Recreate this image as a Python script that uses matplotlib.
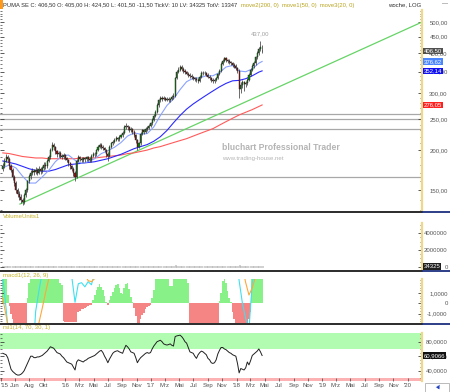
import numpy as np
import pandas as pd
import matplotlib
matplotlib.use("Agg")
import matplotlib.pyplot as plt
import matplotlib.dates as mdates
from matplotlib.ticker import FixedLocator, FuncFormatter, NullFormatter
from matplotlib.lines import Line2D
from matplotlib.patches import Rectangle

plt.rcParams['font.family'] = ['Liberation Sans', 'DejaVu Sans']

# weekly bars PUMA SE, first bar week of 10.04.2015
first_week = '2015-04-10'
first_open = 175
last_open = 405.0
closes = [178, 185, 190, 188, 178, 174, 165, 158, 150, 146,
          143, 140, 138, 145, 150, 160, 166, 170, 172, 171,
          174, 170, 175, 172, 176, 180, 178, 185, 190, 200,
          208, 204, 198, 194, 196, 192, 190, 193, 189, 186,
          182, 178, 175, 170, 165, 185, 190, 188, 186, 189,
          187, 190, 188, 186, 192, 195, 194, 200, 205, 208,
          205, 203, 200, 195, 192, 205, 210, 212, 215, 218,
          216, 220, 222, 226, 236, 238, 235, 230, 232, 228,
          222, 215, 205, 210, 225, 230, 228, 232, 234, 238,
          242, 248, 256, 262, 275, 285, 290, 288, 290, 287,
          289, 285, 288, 292, 295, 335, 350, 355, 362, 358,
          352, 350, 345, 342, 340, 336, 334, 332, 330, 328,
          338, 348, 346, 347, 343, 338, 335, 330, 327, 330,
          335, 345, 352, 370, 378, 385, 380, 378, 374, 372,
          368, 365, 360, 352, 310, 318, 325, 320, 322, 330,
          342, 355, 365, 372, 388, 400, 412, 418, 406.5]
highs = [182, 189, 195, 193, 190, 181, 176, 167, 160, 153,
         149, 146, 142, 147, 153, 162, 169, 173, 176, 175,
         177, 176, 178, 177, 179, 183, 183, 188, 193, 203,
         212, 210, 206, 200, 199, 198, 195, 196, 195, 191,
         188, 184, 180, 177, 172, 187, 193, 192, 190, 191,
         191, 192, 192, 190, 194, 197, 197, 202, 208, 211,
         210, 207, 205, 202, 197, 207, 212, 215, 218, 221,
         220, 222, 225, 229, 239, 242, 240, 237, 235, 234,
         230, 224, 217, 212, 227, 233, 232, 235, 237, 241,
         245, 251, 259, 266, 279, 289, 295, 294, 294, 293,
         293, 292, 291, 296, 300, 338, 355, 361, 368, 366,
         361, 356, 353, 349, 346, 344, 340, 338, 336, 334,
         341, 352, 352, 352, 350, 346, 341, 338, 334, 334,
         338, 348, 356, 374, 383, 390, 388, 384, 382, 378,
         376, 372, 369, 363, 356, 325, 330, 328, 327, 334,
         346, 359, 369, 377, 393, 405, 418, 437, 424.5]
lows = [172, 176, 183, 184, 175, 171, 162, 155, 147, 143,
        140, 137, 135, 136, 143, 148, 158, 163, 167, 167,
        168, 167, 168, 169, 170, 174, 175, 176, 183, 188,
        198, 200, 195, 191, 191, 189, 187, 188, 186, 183,
        179, 175, 172, 166, 160, 164, 183, 185, 183, 184,
        184, 185, 185, 183, 184, 190, 191, 192, 198, 203,
        202, 200, 197, 190, 185, 190, 203, 207, 210, 213,
        213, 214, 218, 220, 224, 233, 231, 227, 228, 225,
        219, 211, 200, 203, 208, 223, 225, 226, 229, 232,
        236, 240, 246, 253, 260, 272, 282, 284, 285, 283,
        284, 281, 282, 285, 289, 293, 332, 346, 352, 353,
        348, 345, 341, 338, 335, 332, 330, 328, 325, 323,
        326, 335, 342, 342, 339, 334, 331, 326, 322, 323,
        327, 332, 342, 349, 366, 374, 375, 373, 369, 367,
        363, 360, 355, 347, 290, 300, 312, 305, 314, 318,
        327, 339, 351, 360, 368, 384, 395, 406, 401.5]
volume_k = [62, 58, 71, 66, 80, 75, 92, 88, 97, 85,
            79, 90, 83, 102, 76, 88, 70, 64, 58, 61,
            55, 67, 59, 63, 72, 68, 60, 74, 81, 95,
            110, 87, 73, 66, 62, 69, 58, 64, 71, 77,
            83, 90, 86, 98, 120, 135, 96, 72, 65, 60,
            57, 63, 59, 55, 66, 70, 61, 68, 74, 79,
            71, 66, 62, 75, 88, 93, 80, 69, 64, 60,
            58, 63, 67, 70, 85, 90, 76, 72, 68, 74,
            82, 95, 108, 97, 86, 78, 70, 66, 62, 64,
            69, 75, 83, 91, 118, 104, 89, 77, 70, 66,
            63, 68, 72, 79, 94, 160, 128, 99, 87, 80,
            74, 70, 66, 63, 68, 72, 65, 61, 59, 64,
            77, 85, 73, 69, 66, 71, 75, 80, 84, 78,
            72, 88, 96, 115, 102, 90, 83, 79, 74, 70,
            73, 77, 81, 92, 140, 118, 101, 93, 86, 82,
            88, 95, 90, 84, 97, 103, 92, 85, 34.325]

# moving averages, read every 4th week plus the last bar
ma_weeks = [0, 4, 8, 12, 16, 20, 24, 28, 32, 36, 40, 44, 48, 52, 56, 60, 64, 68, 72, 76,
            80, 84, 88, 92, 96, 100, 104, 108, 112, 116, 120, 124, 128, 132, 136, 140,
            144, 148, 152, 156, 158]
ma20 = [176, 180, 176, 166, 158, 158, 165, 173, 184, 192, 193, 186, 182, 184, 188, 195,
        199, 204, 211, 221, 226, 224, 225, 236, 256, 275, 288, 308, 326, 334, 335, 340,
        340, 348, 362, 366, 352, 350, 357, 372, 376.62]
ma50 = [185, 183, 181, 178, 175, 173, 172, 172, 174, 177, 180, 181, 182, 183, 184, 186,
        188, 191, 194, 198, 202, 205, 208, 213, 220, 230, 243, 256, 268, 278, 287, 296,
        305, 314, 322, 328, 329, 333, 340, 349, 352.14]
ma200 = [196, 195, 193, 191, 190, 189, 189, 188, 188, 188, 188, 188, 189, 189, 189, 190,
         191, 192, 193, 195, 196, 198, 200, 203, 205, 208, 211, 214, 217, 221, 225, 229,
         233, 239, 245, 251, 257, 262, 267, 273, 276.05]

trend_dates = ['2015-06-22', '2020-02-28']
trend_vals = [136, 498]
support_levels = [258, 250, 232, 165]

# macd, every 2nd week
macd_line = [2.5, -0.5, -4, -8, -12, -14, -15, -14, -12, -6,
             -0.8, 1.2, 3, 6, 9, 12, 13, 12, 11, 9,
             6, 2.6, 0.1, 1.9, 2.0, 1.6, 2.1, 1.8, 3, 5,
             6, 7, 6, 7, 8, 9, 8, 7, 8, 7,
             6, 6, 7, 9, 12, 15, 17, 17, 16, 16,
             18, 22, 24, 24, 22, 20, 18, 16, 14, 12,
             11, 11, 10, 9, 8, 8, 10, 12, 13, 12,
             10, 5, 2.2, 0, -1.5, -2.5, 2.0, 3.5, 6, 8]
macd_signal = [0.5, -1.2, -2.8, -5, -7, -9, -11, -12, -12, -10,
               -6, -1.9, -0.5, 1.0, 2.4, 5, 8, 10, 11, 11,
               10, 8, 6, 4.5, 3.5, 2.8, 2.2, 2.1, 2.4, 3,
               4, 5, 6, 6, 7, 7, 8, 8, 8, 7,
               7, 6, 6, 7, 8, 10, 12, 14, 15, 16,
               16, 17, 19, 21, 22, 22, 21, 19, 17, 15,
               13, 12, 11, 10, 9, 8.5, 8.5, 9.5, 11, 12,
               12, 9, 6, 3.5, 2.0, 0.8, 1.5, 2.6, 4, 6]
macd_hist = [3, 3, 3, 0.8, -0.3, -1.0, -1.5, -3, -3, -3,
             -3, -3, -3, -3, -3, 0.5, 2.0, 3, 3, 3,
             3, 3, 3, 3, 3, 3, 3, 3, 3, 3,
             3, 3, 3, 3, 3, 2.0, 1.8, -1.7, -1.8, -1.8,
             -1.8, -1.8, -1.8, -1.8, -1.8, -1.8, -0.8, -0.7, -0.6, -0.55,
             -0.5, -0.4, -0.3, -0.2, -0.15, 0.3, 0.8, 1.25, 1.6, 1.9,
             1.6, 1.25, 0.7, 0.15, -0.2, 0.3, 0.7, 1.1, 1.5, 1.8,
             1.9, 1.5, 1.0, 0.9, 1.5, 1.9, 2.0, 1.4, 0.6, 0.1,
             -0.5, -1.2, -2.5, -2.5, -1.5, -1.1, -0.9, -0.6, -0.4, -0.3,
             -0.15, 0.5, 1.25, 3, 3, 3, 3, 3, 3, 3,
             3, 3, 1.7, 1.7, 3, 3, 3, 3, 3, 3,
             3, 3, 3, 2.0, -3, -3, -3, -3, -3, -3,
             -3, -3, -3, -3, -3, -3, -3, -3, -3, -3,
             -3, -3, 0.2, 1.0, 2.2, 2.5, 2.0, 1.2, 0.5, 0.1,
             -0.8, -1.5, -3, -3, -3, -3, -3, -3, -3, -3,
             -1.5, -0.8, 3, 3, 3, 3, 3, 3, 3]
rsi = [64, 63, 62, 58, 50, 42, 39, 37, 35, 34,
       34, 35, 37, 40, 45, 50, 55, 60, 60, 58,
       58, 59, 59, 60, 61, 63, 65, 67, 70, 73,
       72, 71, 68, 65, 64, 63, 60, 58, 55, 52,
       51, 50, 49, 45, 41, 52, 55, 54, 53, 52,
       54, 55, 57, 58, 59, 60, 61, 63, 65, 67,
       68, 65, 60, 56, 51, 56, 60, 64, 66, 67,
       67.5, 66, 65, 64, 70, 75, 73, 70, 66, 65,
       64, 58, 51, 55, 58, 60, 62, 64, 65, 64,
       65, 70, 74, 77, 80, 81, 82, 80, 77, 76,
       75.4, 76, 77, 75, 74, 87, 88, 88.5, 89, 87,
       84, 80, 78, 72, 66, 65, 64, 60, 57, 62,
       65, 67, 66, 64, 62, 57, 55, 51, 50, 51,
       55, 63, 68, 72, 72, 70, 69, 67, 65, 64,
       62, 61, 60, 50, 37, 43, 42, 41, 44, 52,
       48, 54, 61, 63, 65, 67, 70, 66, 60.9066]

month_ticks = ['2015-04-01', '2015-06-01', '2015-08-01', '2015-10-01',
               '2016-01-01', '2016-03-01', '2016-05-01', '2016-07-01', '2016-09-01', '2016-11-01',
               '2017-01-01', '2017-03-01', '2017-05-01', '2017-07-01', '2017-09-01', '2017-11-01',
               '2018-01-01', '2018-03-01', '2018-05-01', '2018-07-01', '2018-09-01', '2018-11-01',
               '2019-01-01', '2019-03-01', '2019-05-01', '2019-07-01', '2019-09-01', '2019-11-01',
               '2020-01-01']
month_labels = ["'15", 'Jun', 'Aug', 'Okt', "'16", 'Mrz', 'Mai', 'Jul', 'Sep', 'Nov',
                "'17", 'Mrz', 'Mai', 'Jul', 'Sep', 'Nov', "'18", 'Mrz', 'Mai', 'Jul', 'Sep', 'Nov',
                "'19", 'Mrz', 'Mai', 'Jul', 'Sep', 'Nov', "'20"]

W, H = 450, 392
def fx(px): return px / W
def fy(py): return 1 - py / H
def axbox(top, bottom):
    return [0, fy(bottom), fx(422), (bottom - top) / H]

def de(v, nd=2):
    return f"{v:.{nd}f}".replace('.', ',')

weeks = pd.date_range(first_week, periods=len(closes), freq='7D')
xw = mdates.date2num(weeks)
c = np.array(closes, float)
o = np.array([first_open] + closes[:-1], float)
o[-1] = last_open
x_left = mdates.date2num(pd.Timestamp('2015-03-29'))
x_right = mdates.date2num(pd.Timestamp('2020-03-02'))

fig = plt.figure(figsize=(W / 100, H / 100), dpi=100)
ax = fig.add_axes(axbox(10, 211))
axv = fig.add_axes(axbox(223, 270))
axm = fig.add_axes(axbox(279.3, 323.3))
axr = fig.add_axes(axbox(332.7, 381))

TICKC = '#404040'
YEL = '#f0d88a'
for a in (ax, axv, axm, axr):
    a.set_xlim(x_left, x_right)
    for s in ('left', 'top', 'bottom'):
        a.spines[s].set_visible(False)
    a.spines['right'].set_color(YEL)
    a.spines['right'].set_linewidth(1.6)
    a.yaxis.tick_right()
    a.tick_params(axis='y', which='both', direction='in', colors=TICKC, labelsize=4.3,
                  pad=18.5, left=True, right=True, labelleft=False, labelcolor='#555555')
    a.tick_params(axis='y', which='major', length=3, width=0.6)
    a.tick_params(axis='y', which='minor', length=1.5, width=0.5)
    a.tick_params(axis='x', which='both', bottom=False, labelbottom=False)

# price panel
ax.set_yscale('log')
ax.set_ylim(129.4, 544)
ax.yaxis.set_major_locator(FixedLocator([150, 200, 250, 300, 350, 400, 450, 500]))
ax.yaxis.set_minor_locator(FixedLocator(np.arange(130, 545, 10)))
ax.yaxis.set_major_formatter(FuncFormatter(lambda v, p: de(v)))
ax.yaxis.set_minor_formatter(NullFormatter())

for lvl in support_levels:
    ax.axhline(lvl, color='#a8a8a8', lw=0.9, zorder=1)
ax.plot(mdates.date2num(pd.to_datetime(trend_dates)), trend_vals, color='#66d466', lw=0.9, zorder=2)

xma = xw[ma_weeks]
ax.plot(xma, ma200, color='#ff5a5a', lw=0.8, zorder=2)
ax.plot(xma, ma50, color='#2a2aff', lw=0.8, zorder=2)
ax.plot(xma, ma20, color='#8aa2ff', lw=0.8, zorder=2)

ax.vlines(xw, lows, highs, color='#303030', lw=0.5, zorder=3)
up = c >= o
body_lo = np.minimum(o, c)
body_h = np.maximum(np.abs(c - o), 0.8)
ax.bar(xw, body_h, bottom=body_lo, width=4.6, color=np.where(up, '#0a8a0a', '#a01010'),
       edgecolor='#202020', linewidth=0.3, zorder=4)

imax = int(np.argmax(highs))
ax.annotate(de(highs[imax]), xy=(xw[imax], highs[imax]), xytext=(0, 3.5),
            textcoords='offset points', ha='center', va='bottom', fontsize=4.3, color='#a0a0a0')

def tag(a, val, text, fc):
    a.text(1.004, val, text, transform=a.get_yaxis_transform(), ha='left', va='center',
           fontsize=4.3, color='white', clip_on=False, zorder=10,
           bbox=dict(boxstyle='square,pad=0.12', fc=fc, ec='none'))

tag(ax, closes[-1], de(closes[-1]), '#505050')
tag(ax, ma20[-1], de(ma20[-1]), '#4a86ff')
tag(ax, ma50[-1], de(ma50[-1]), '#1010f0')
tag(ax, ma200[-1], de(ma200[-1]), '#ff2020')

# volume panel
vol = np.array(volume_k) * 1000
axv.bar(xw, vol, width=4.0, color='#b8b8b8', edgecolor='#b8b8b8', linewidth=0.4)
axv.set_ylim(-0.4e6, 5.23e6)
axv.yaxis.set_major_locator(FixedLocator([0, 2e6, 4e6]))
axv.yaxis.set_minor_locator(FixedLocator(np.arange(0, 5.3e6, 0.5e6)))
axv.yaxis.set_major_formatter(FuncFormatter(lambda v, p: f"{v:.0f}"))
tag(axv, vol[-1], f"{vol[-1]:.0f}", '#202020')

# macd panel
hist = np.array(macd_hist)
axm.bar(xw, hist, width=7.0, color=np.where(hist >= 0, '#88f288', '#f58585'), linewidth=0)
x2 = xw[::2]
axm.plot(x2, macd_line, color='#3fe0f0', lw=0.8)
axm.plot(x2, macd_signal, color='#ffa83a', lw=0.8)
axm.set_ylim(-1.94, 2.33)
axm.yaxis.set_major_locator(FixedLocator([-1, 0, 1]))
axm.yaxis.set_minor_locator(FixedLocator(np.arange(-1.75, 2.3, 0.25)))
axm.yaxis.set_major_formatter(FuncFormatter(lambda v, p: '0' if v == 0 else de(v, 4)))

# rsi panel
axr.axhspan(70, 100, color='#b2fcb2', lw=0, zorder=0)
axr.axhspan(0, 30, color='#fcb2b2', lw=0, zorder=0)
axr.plot(xw, rsi, color='#202020', lw=0.7)
axr.set_ylim(25.8, 92.4)
axr.yaxis.set_major_locator(FixedLocator([40, 60, 80]))
axr.yaxis.set_minor_locator(FixedLocator(np.arange(30, 92, 5)))
axr.yaxis.set_major_formatter(FuncFormatter(lambda v, p: de(v, 4)))
tag(axr, rsi[-1], de(rsi[-1], 4), '#111111')

axr.set_xticks(mdates.date2num(pd.to_datetime(month_ticks)))
axr.set_xticklabels(month_labels)
axr.tick_params(axis='x', which='major', bottom=True, labelbottom=True, direction='in',
                length=2, width=0.5, colors=TICKC, labelsize=4.3, pad=1.5, labelcolor='#505050')
axr.get_xticklabels()[0].set_ha('left')

# right-hand scale labels sit flush right
for a in (ax, axv, axm, axr):
    plt.setp(a.get_yticklabels(), ha='right')

# panel separators
for py in (212, 271, 323.5):
    fig.add_artist(Line2D([0, fx(422)], [fy(py), fy(py)], color='#1a1a1a', lw=1.3))
    fig.add_artist(Line2D([fx(423), 1], [fy(py), fy(py)], color='#1c2f80', lw=1.3))

# header and labels
fig.add_artist(Rectangle((0, fy(8.5)), fx(2.7), 8.5 / H, color='#ff9a1a', lw=0))
fig.text(fx(3), fy(5), 'PUMA SE C: 406,50 O: 405,00 H: 424,50 L: 401,50 -11,50 TickV: 10 LV: 34325 TotV: 13347',
         fontsize=4.12, va='center', color='#303030')
fig.text(fx(241), fy(5), 'move2(200, 0)  move1(50, 0)  move3(20, 0)', fontsize=4.2, va='center', color='#b8a420')
fig.text(fx(388), fy(5), 'woche, LOG', fontsize=4.3, va='center', color='#303030')
fig.text(fx(442), fy(3.5), '\u2014', fontsize=4.3, va='center', color='#505050')
fig.text(fx(3), fy(217), 'VolumeUnits1', fontsize=4.3, va='center', color='#c8b42a')
fig.text(fx(3), fy(275.5), 'macd1(12, 26, 9)', fontsize=4.3, va='center', color='#c8b42a')
fig.text(fx(3), fy(327.5), 'rsi1(14, 70, 30, 1)', fontsize=4.3, va='center', color='#c8b42a')

fig.text(fx(222), fy(148), 'bluchart Professional Trader', fontsize=6.2, fontweight='bold',
         va='center', color='#b4b4b4')
fig.text(fx(222), fy(158), 'www.trading-house.net', fontsize=4.3, va='center', color='#b4b4b4')

fig.add_artist(Rectangle((fx(425), 0), fx(24), 9 / H, fc='white', ec='#b0b0b0', lw=0.6))
fig.text(fx(437), fy(387), '\u25b2', fontsize=5, ha='center', va='center', color='#2040c0', rotation=-30)

fig.savefig('out.png', dpi=100)
